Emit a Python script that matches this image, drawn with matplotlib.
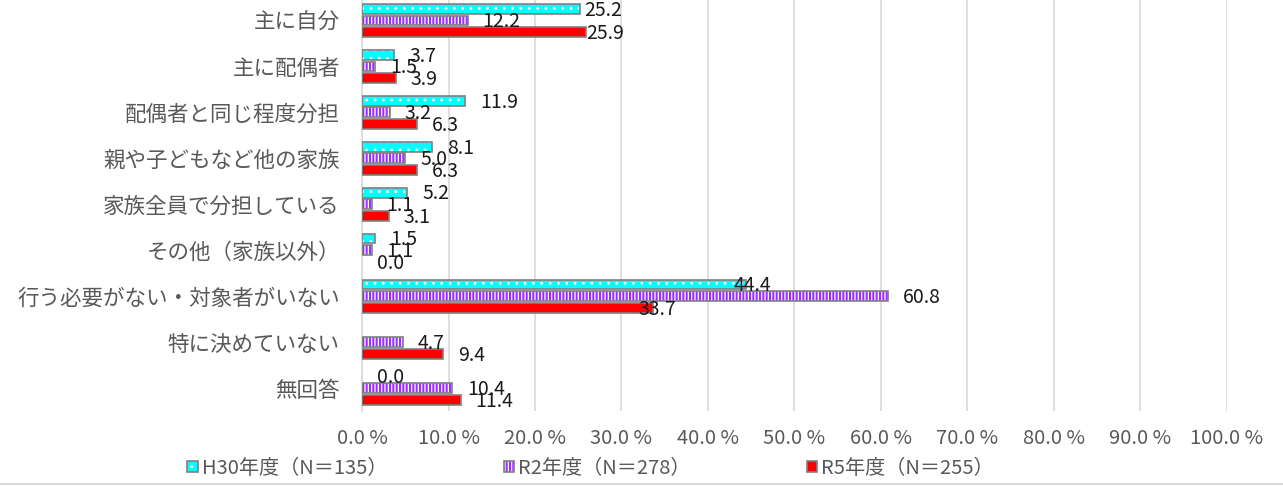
import numpy as np
import matplotlib
matplotlib.use('Agg')
import matplotlib.pyplot as plt
from matplotlib.patches import Patch
from matplotlib.legend_handler import HandlerTuple
from matplotlib.lines import Line2D

plt.rcParams['font.family'] = ['Noto Sans CJK JP', 'DejaVu Sans']
plt.rcParams['hatch.linewidth'] = 0.9

categories = ['主に自分', '主に配偶者', '配偶者と同じ程度分担', '親や子どもなど他の家族',
              '家族全員で分担している', 'その他（家族以外）', '行う必要がない・対象者がいない',
              '特に決めていない', '無回答']
h30 = [25.2, 3.7, 11.9, 8.1, 5.2, 1.5, 44.4, np.nan, 0.0]
r2 = [12.2, 1.5, 3.2, 5.0, 1.1, 1.1, 60.8, 4.7, 10.4]
r5 = [25.9, 3.9, 6.3, 6.3, 3.1, 0.0, 33.7, 9.4, 11.4]
series_names = ['H30年度（N＝135）', 'R2年度（N＝278）', 'R5年度（N＝255）']
xticks = np.arange(0, 101, 10)

# label nudges (px) for a few labels that Excel moved
nudge = {(0, 0): -11, (0, 2): -15, (6, 0): -27, (6, 2): -30}

styles = [
    dict(color='#00FFFF', hatch='..', hcol='white'),
    dict(color='#9B30FF', hatch='|||||', hcol='white'),
    dict(color='#FF0000', hatch=None, hcol='#FF0000'),
]
edge = '#808080'

fig = plt.figure(figsize=(12.83, 4.86), dpi=100)
ax = fig.add_axes([0.2822, 0.1543, 0.6739, 0.8507])

y = np.arange(len(categories))
step = 0.255
hgt = 0.215
for k, (vals, st) in enumerate(zip([h30, r2, r5], styles)):
    yy = y + (k - 1) * step
    v = np.array(vals, dtype=float)
    w = np.where(v > 0, v, np.nan)
    ax.barh(yy, w, height=hgt, color=st['color'], edgecolor=st['hcol'],
            hatch=st['hatch'], linewidth=0, zorder=3)
    ax.barh(yy, w, height=hgt, facecolor='none', edgecolor=edge,
            linewidth=1.2, zorder=4)
    for i, val in enumerate(v):
        if np.isnan(val):
            continue
        off = (15 + nudge.get((i, k), 0)) * 0.72
        ax.annotate(f'{val:.1f}', (val, yy[i]), xytext=(off, -1), textcoords='offset points',
                    ha='left', va='center', fontsize=14, color='#1a1a1a', zorder=5)

ax.set_xlim(0, 100)
ax.set_ylim(8.5, -0.5)
ax.set_xticks(xticks)
ax.set_xticklabels([f'{t:.1f} %' for t in xticks])
ax.set_yticks(y)
ax.set_yticklabels(categories)
ax.tick_params(axis='x', length=0, pad=12, labelsize=14.5, labelcolor='#595959')
ax.tick_params(axis='y', length=0, pad=16, labelsize=15.5, labelcolor='#595959')
ax.grid(axis='x', color='#d9d9d9', linewidth=1.2, zorder=0)
for s in ['top', 'right', 'bottom']:
    ax.spines[s].set_visible(False)
ax.spines['left'].set_color('#d9d9d9')
ax.spines['left'].set_linewidth(1.2)

handles = []
for st in styles:
    fill = Patch(facecolor=st['color'], edgecolor=st['hcol'], hatch=st['hatch'], linewidth=0)
    outline = Patch(facecolor='none', edgecolor=edge, linewidth=1.2)
    handles.append((fill, outline))
fig.legend(handles, series_names, loc='center', bbox_to_anchor=(0.4605, 1 - 468 / 486),
           ncol=3, frameon=False, fontsize=14.5, labelcolor='#595959',
           handlelength=0.5, handleheight=0.5, handletextpad=0.2, columnspacing=5.8,
           handler_map={tuple: HandlerTuple(ndivide=1, pad=0)})

fig.add_artist(Line2D([0, 1], [1 - 484 / 486] * 2, transform=fig.transFigure,
                      color='#d9d9d9', linewidth=1.5))

fig.savefig('out.png', dpi=100)
